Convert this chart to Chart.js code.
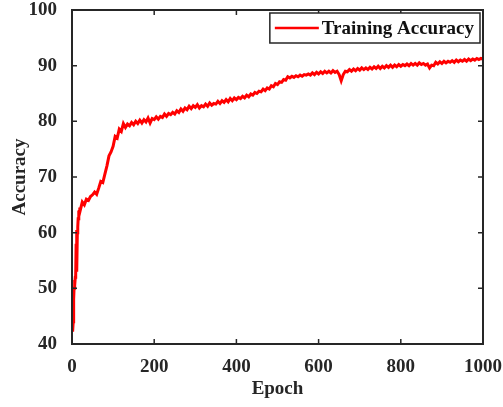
<!DOCTYPE html>
<html lang="en">
<head>
    <meta charset="UTF-8">
    <title>Training Accuracy</title>
    <script src="https://cdn.jsdelivr.net/npm/chart.js"></script>
    <style>
        body {
            margin: 0;
            background-color: #ffffff;
        }
        canvas {
            display: block;
        }
    </style>
</head>
<body>
    <canvas id="accChart" width="503" height="407"></canvas>

    <script>
        // first epochs, one value per epoch (0..20)
        const earlyAcc = [49, 45, 42.2, 44, 48, 50, 51.5, 50.5, 52, 52.5, 58, 60.5, 53, 60, 61, 62.5, 64, 63, 63.8, 64.5, 64];
        // then one value every 5 epochs (25..1000)
        const lateStep = 5;
        const lateStart = 25;
        const lateAcc = [
            65.5, 65, 66, 65.8, 66.5, 66.8, 67.3, 66.9, 68, 69.2,
            69, 70.5, 72, 73.8, 74.5, 75.5, 77.3, 77, 78.6, 78.2,
            79.6, 78.9, 79.5, 79.2, 79.8, 79.4, 80, 79.6, 80.2, 79.7,
            80.3, 79.9, 80.6, 79.7, 80.5, 80.3, 80.8, 80.4, 80.9, 80.7,
            81.3, 80.9, 81.4, 81.2, 81.6, 81.3, 81.9, 81.6, 82.2, 81.8,
            82.4, 82.1, 82.7, 82.3, 82.8, 82.5, 83, 82.4, 82.8, 82.6,
            83.1, 82.7, 83.3, 82.9, 83.2, 83.1, 83.6, 83.2, 83.7, 83.4,
            83.9, 83.5, 84.1, 83.7, 84.2, 83.9, 84.3, 84.1, 84.5, 84.2,
            84.7, 84.4, 84.9, 84.7, 85.2, 85, 85.4, 85.3, 85.8, 85.5,
            86, 85.8, 86.4, 86.2, 86.8, 86.6, 87.1, 87, 87.5, 87.4,
            88, 87.8, 88.1, 87.9, 88.2, 88, 88.3, 88.1, 88.4, 88.3,
            88.5, 88.3, 88.7, 88.4, 88.8, 88.5, 88.9, 88.6, 89, 88.7,
            89, 88.7, 89.1, 88.8, 89, 88.4, 87.3, 88.4, 89, 88.9,
            89.3, 89, 89.4, 89.1, 89.5, 89.2, 89.6, 89.3, 89.6, 89.3,
            89.7, 89.4, 89.8, 89.5, 89.9, 89.5, 89.9, 89.6, 90, 89.7,
            90.1, 89.7, 90.1, 89.8, 90.2, 89.9, 90.2, 90, 90.3, 90,
            90.4, 90.1, 90.4, 90.1, 90.5, 90.2, 90.4, 90.1, 90.3, 89.6,
            90.1, 90, 90.6, 90.3, 90.7, 90.4, 90.8, 90.5, 90.8, 90.6,
            90.9, 90.6, 91, 90.7, 91, 90.8, 91.1, 90.8, 91.2, 90.9,
            91.2, 91, 91.3, 91.1, 91.3, 91.2
        ];
        const xTicks = [0, 200, 400, 600, 800, 1000];
        const yTicks = [40, 50, 60, 70, 80, 90, 100];

        const points = [];
        earlyAcc.forEach((v, i) => points.push({ x: i, y: v }));
        lateAcc.forEach((v, i) => points.push({ x: lateStart + i * lateStep, y: v }));

        const axisColor = '#262626';
        const fontFamily = "'Liberation Serif', 'Times New Roman', serif";
        const font = { family: fontFamily, size: 19, weight: 'bold' };

        // box, inward ticks and legend like a matlab figure
        const matlabFrame = {
            id: 'matlabFrame',
            afterDatasetsDraw(chart) {
                const ctx = chart.ctx;
                const a = chart.chartArea;
                const xs = chart.scales.x, ys = chart.scales.y;
                const tl = 5;
                ctx.save();
                ctx.strokeStyle = axisColor;
                ctx.lineWidth = 1.5;
                ctx.beginPath();
                xTicks.forEach(t => {
                    const px = xs.getPixelForValue(t);
                    ctx.moveTo(px, a.bottom); ctx.lineTo(px, a.bottom - tl);
                    ctx.moveTo(px, a.top); ctx.lineTo(px, a.top + tl);
                });
                yTicks.forEach(t => {
                    const py = ys.getPixelForValue(t);
                    ctx.moveTo(a.left, py); ctx.lineTo(a.left + tl, py);
                    ctx.moveTo(a.right, py); ctx.lineTo(a.right - tl, py);
                });
                ctx.stroke();
                ctx.lineWidth = 2;
                ctx.strokeRect(a.left, a.top, a.right - a.left, a.bottom - a.top);

                // legend
                const ds = chart.data.datasets[0];
                ctx.font = 'bold 19px ' + fontFamily;
                const tw = ctx.measureText(ds.label).width;
                const boxR = a.right - 3, boxT = a.top + 3;
                const boxW = tw + 58, boxH = 30;
                const boxL = boxR - boxW;
                ctx.fillStyle = '#ffffff';
                ctx.fillRect(boxL, boxT, boxW, boxH);
                ctx.lineWidth = 1.5;
                ctx.strokeRect(boxL, boxT, boxW, boxH);
                const cy = boxT + boxH / 2;
                ctx.strokeStyle = ds.borderColor;
                ctx.lineWidth = 2.5;
                ctx.beginPath();
                ctx.moveTo(boxL + 5, cy); ctx.lineTo(boxL + 49, cy);
                ctx.stroke();
                ctx.fillStyle = '#111111';
                ctx.textBaseline = 'middle';
                ctx.textAlign = 'left';
                ctx.fillText(ds.label, boxL + 52, cy + 1);
                ctx.restore();
            }
        };

        const ctx = document.getElementById('accChart').getContext('2d');
        new Chart(ctx, {
            type: 'line',
            data: {
                datasets: [{
                    label: 'Training Accuracy',
                    data: points,
                    borderColor: '#ff0000',
                    borderWidth: 3,
                    pointRadius: 0,
                    tension: 0,
                    fill: false
                }]
            },
            options: {
                responsive: false,
                animation: false,
                layout: { padding: { left: 0, top: 10, right: 20, bottom: 0 } },
                plugins: {
                    legend: { display: false },
                    tooltip: { enabled: false }
                },
                scales: {
                    x: {
                        type: 'linear',
                        min: 0,
                        max: 1000,
                        afterBuildTicks: s => { s.ticks = xTicks.map(v => ({ value: v })); },
                        afterFit: s => { s.height = 63; s.paddingLeft = 0; s.paddingRight = 0; },
                        grid: { display: false },
                        border: { display: false },
                        ticks: { color: axisColor, font: font, padding: 4, maxRotation: 0, callback: v => String(v) },
                        title: { display: true, text: 'Epoch', color: axisColor, font: font, padding: { top: 0, bottom: 7 } }
                    },
                    y: {
                        min: 40,
                        max: 100,
                        afterBuildTicks: s => { s.ticks = yTicks.map(v => ({ value: v })); },
                        afterFit: s => { s.width = 72; s.paddingTop = 0; s.paddingBottom = 0; },
                        grid: { display: false },
                        border: { display: false },
                        ticks: { color: axisColor, font: font, padding: 7 },
                        title: { display: true, text: 'Accuracy', color: axisColor, font: font, padding: { top: 9, bottom: 0 } }
                    }
                }
            },
            plugins: [matlabFrame]
        });
    </script>
</body>
</html>
